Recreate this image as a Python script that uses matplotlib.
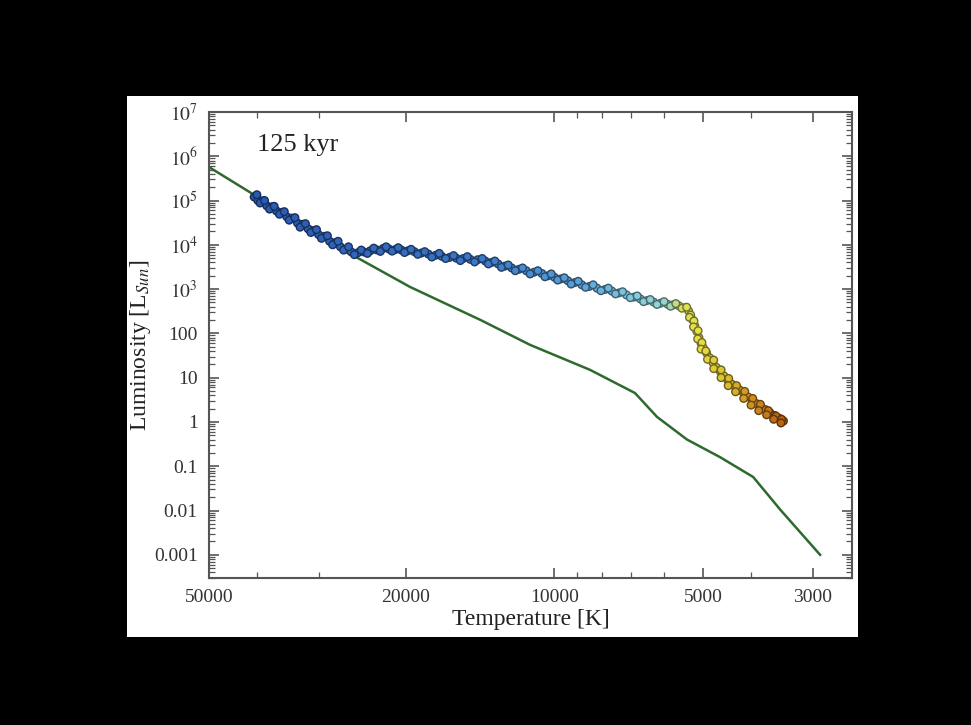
import numpy as np
import matplotlib
matplotlib.use("Agg")
import matplotlib.pyplot as plt
from matplotlib.patches import Rectangle
from matplotlib.colors import LinearSegmentedColormap, Normalize
from matplotlib.ticker import FixedLocator, FuncFormatter, NullFormatter, LogLocator

plt.rcParams['font.family'] = ['Liberation Serif', 'DejaVu Serif']
plt.rcParams['mathtext.fontset'] = 'stix'

# reference track (green line)
track_temp = [50000, 26300, 19600, 14100, 11200, 8470, 6870, 6200, 5390, 4620, 3960, 3490, 2900]
track_lum = [5.7e5, 6900, 1120, 200, 55, 15, 4.5, 1.3, 0.40, 0.16, 0.057, 0.0104, 0.001]

# cluster stars at 125 kyr (two interleaved batches along the band)
star_temp = [40500, 39800, 39000, 38200, 37300, 36500, 35600, 34800, 34000, 33100,
             32300, 31500, 30700, 30000, 29200, 28500, 27800, 27100, 26400, 25800,
             25000, 24300, 23600, 22900, 22200, 21600, 21000, 20400, 19800, 19200,
             18600, 18000, 17400, 16900, 16300, 15800, 15300, 14800, 14300, 13800,
             13400, 13000, 12600, 12200, 11800, 11400, 11000, 10600, 10300, 10000,
             9700, 9400, 9100, 8800, 8500, 8200, 7900, 7650, 7400, 7150,
             6900, 6700, 6500, 6300, 6100, 5900, 5750, 5600, 5450, 5350,
             5300, 5250, 5200, 5150, 5100, 5050, 5000, 4920, 4850, 4780,
             4700, 4620, 4540, 4460, 4380, 4300, 4220, 4140, 4060, 3980,
             3900, 3820, 3740, 3660, 3580, 3500, 3440]
star_lum = [1.2e5, 1.0e5, 9.8e4, 7.6e4, 7.2e4, 5.8e4, 5.4e4, 4.3e4, 4.0e4, 3.1e4,
            2.9e4, 2.3e4, 2.1e4, 1.7e4, 1.55e4, 1.2e4, 1.12e4, 9.0e3, 8.0e3, 7.0e3,
            6600, 6900, 7300, 7700, 8300, 8000, 7800, 7600, 7300, 7000,
            6500, 6200, 5800, 5500, 5200, 5000, 4900, 4700, 4600, 4300,
            4000, 3700, 3300, 3000, 2800, 2600, 2400, 2250, 2000, 1850,
            1700, 1550, 1400, 1250, 1150, 1050, 980, 900, 820, 740,
            660, 600, 550, 510, 480, 455, 440, 420, 380, 320,
            260, 200, 150, 110, 80, 60, 48, 36, 28, 22,
            17, 14, 11, 8.8, 7.2, 6.0, 5.3, 4.5, 3.7, 3.1,
            2.6, 2.2, 1.9, 1.6, 1.4, 1.2, 1.05]

star2_temp = [40000, 39400, 38600, 37700, 36900, 36000, 35200, 34400, 33500, 32700,
              31900, 31100, 30300, 29600, 28800, 28100, 27400, 26700, 26100, 25400,
              24600, 23900, 23200, 22500, 21900, 21300, 20700, 20100, 19500, 18900,
              18300, 17700, 17100, 16600, 16000, 15500, 15000, 14500, 14000, 13600,
              13200, 12800, 12400, 12000, 11600, 11200, 10800, 10450, 10150, 9850,
              9550, 9250, 8950, 8650, 8350, 8050, 7780, 7520, 7280, 7020,
              6800, 6600, 6400, 6200, 6000, 5820, 5680, 5520, 5400, 5330,
              5220, 5230, 5120, 5130, 5030, 5050, 4940, 4900, 4760, 4760,
              4600, 4600, 4440, 4450, 4280, 4300, 4120, 4140, 3970, 4000,
              3830, 3860, 3690, 3720, 3560, 3600, 3470, 3480]
star2_lum = [1.35e5, 8.8e4, 1.0e5, 6.4e4, 7.4e4, 4.9e4, 5.6e4, 3.6e4, 4.1e4, 2.5e4,
             3.0e4, 1.9e4, 2.2e4, 1.4e4, 1.6e4, 1.0e4, 1.2e4, 7600, 9000, 6000,
             7600, 6400, 8400, 7100, 9000, 7200, 8600, 6700, 7900, 6100,
             7000, 5300, 6400, 4900, 5700, 4400, 5400, 4100, 4900, 3700,
             4300, 3100, 3500, 2600, 3000, 2200, 2600, 1900, 2200, 1600,
             1800, 1300, 1500, 1100, 1250, 920, 1050, 780, 870, 640,
             700, 520, 580, 450, 520, 410, 470, 370, 390, 230,
             190, 140, 115, 75, 62, 44, 40, 26, 25, 16,
             15, 10, 9.6, 6.6, 6.6, 4.8, 4.9, 3.4, 3.4, 2.4,
             2.5, 1.8, 1.8, 1.45, 1.35, 1.15, 1.15, 0.95]

x_major = [50000, 20000, 10000, 5000, 3000]
x_minor = [40000, 30000, 9000, 8000, 7000, 6000, 4000]

# colour of a star by its temperature
color_temp = [3440, 3900, 4500, 5100, 5500, 5900, 7000, 9000, 14000, 41000]
color_hex = ['#b86010', '#d08820', '#d8c030', '#e8e048', '#d8e060', '#9ad8d0',
             '#80c8e0', '#5aa0d8', '#3c78c8', '#2a58b0']

fig = plt.figure(figsize=(9.71, 7.25), dpi=100, facecolor='black')
fig.patches.append(Rectangle((0.1308, 0.1214), 0.7528, 0.7462, transform=fig.transFigure,
                             facecolor='white', edgecolor='none', zorder=-5))
ax = fig.add_axes([0.2152, 0.2028, 0.6622, 0.6428])
ax.set_zorder(2)

ax.plot(track_temp, track_lum, color='#2e6a2e', lw=1.8, zorder=2)

norm = Normalize(np.log10(color_temp[0]), np.log10(color_temp[-1]))
cmap = LinearSegmentedColormap.from_list(
    'tc', list(zip(norm(np.log10(color_temp)), color_hex)))

for tt, ll in [(star_temp, star_lum), (star2_temp, star2_lum)]:
    fill = cmap(norm(np.log10(tt)))
    edge = fill.copy()
    edge[:, :3] *= 0.5
    ax.scatter(tt, ll, s=30, c=fill, edgecolors=edge, linewidths=1.0, zorder=3)

ax.set_xscale('log')
ax.set_yscale('log')
ax.set_xlim(50000, 2500)
ax.set_ylim(3e-4, 1e7)

ax.xaxis.set_major_locator(FixedLocator(x_major))
ax.xaxis.set_minor_locator(FixedLocator(x_minor))
ax.xaxis.set_major_formatter(FuncFormatter(lambda v, p: '%d' % v))
ax.xaxis.set_minor_formatter(NullFormatter())

def lum_fmt(v, p):
    if v >= 1000:
        return r'$10^{%d}$' % round(np.log10(v))
    return '%g' % v

ax.yaxis.set_major_locator(FixedLocator([10.0 ** k for k in range(-3, 8)]))
ax.yaxis.set_minor_locator(LogLocator(base=10, subs=range(2, 10), numticks=100))
ax.yaxis.set_major_formatter(FuncFormatter(lum_fmt))
ax.yaxis.set_minor_formatter(NullFormatter())

ax.tick_params(which='both', direction='in', top=True, right=True, colors='#555555',
               labelcolor='#333333', labelsize=14, pad=8)
ax.tick_params(which='major', length=7, width=1.2)
ax.tick_params(which='minor', length=4, width=0.9)
for s in ax.spines.values():
    s.set_color('#555555')
    s.set_linewidth(1.5)

ax.set_xlabel('Temperature [K]', fontsize=17, color='#222222', labelpad=2)
ax.set_ylabel(r'Luminosity [L$_{\mathit{Sun}}$]', fontsize=17, color='#222222', labelpad=1)
ax.text(0.075, 0.93, '125 kyr', transform=ax.transAxes, fontsize=19, color='#222222',
        va='center', ha='left')

fig.savefig('out.png', dpi=100, facecolor='black')
